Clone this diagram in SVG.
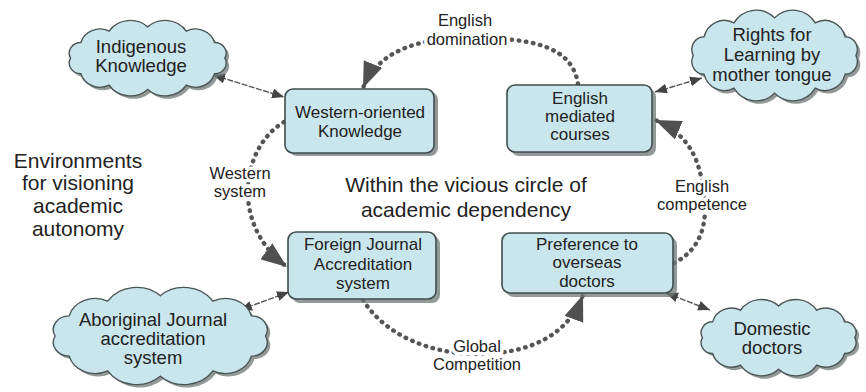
<svg xmlns="http://www.w3.org/2000/svg" width="866" height="392" viewBox="0 0 866 392">
<defs>
<style>
text{font-family:"Liberation Sans",Arial,sans-serif;fill:#222;text-anchor:middle}
.box{fill:#c9e6ec;stroke:#3f4d4f;stroke-width:1.6}
.shadow{fill:#6f7676;opacity:0.75}
.cloud{fill:#c9e6ec;stroke:#4a5556;stroke-width:1.4}
.bt{font-size:17px}
.ct{font-size:18.5px}
.big{font-size:21px}
.lbl{font-size:16.5px;stroke:#fff;stroke-width:7px;paint-order:stroke;stroke-linejoin:round}
.dot{fill:none;stroke:#555;stroke-width:4.4;stroke-linecap:round;stroke-dasharray:0.6 6.6}
.thin{fill:none;stroke:#555;stroke-width:1.4;stroke-dasharray:6 1.5}
</style>
<marker id="ah" markerWidth="28" markerHeight="20" refX="26" refY="10" orient="auto" markerUnits="userSpaceOnUse">
<path d="M0,0 L26,10 L0,20 Z" fill="#505050"/>
</marker>
<marker id="sh" markerWidth="13" markerHeight="10" refX="12" refY="5" orient="auto-start-reverse" markerUnits="userSpaceOnUse">
<path d="M0,0 L12,5 L0,10 Z" fill="#444"/>
</marker>
</defs>
<rect width="866" height="392" fill="#fff"/>

<g id="connectors">
<path class="dot" d="M578,84 C572,45 530,38 470,38 C415,38 378,52 363,88" marker-end="url(#ah)"/>
<path class="dot" d="M284,122 C262,135 250,160 248,185 C246,215 258,245 287,267" marker-end="url(#ah)"/>
<path class="dot" d="M363,300 C385,335 430,354 477,354 C530,354 568,335 583,295" marker-end="url(#ah)"/>
<path class="dot" d="M674,263 C700,250 708,225 704,195 C700,160 690,135 655,120" marker-end="url(#ah)"/>
<path class="thin" d="M213,75 L284,97" marker-start="url(#sh)" marker-end="url(#sh)"/>
<path class="thin" d="M655,92 L702,78" marker-start="url(#sh)" marker-end="url(#sh)"/>
<path class="thin" d="M240,310 L289,292" marker-start="url(#sh)" marker-end="url(#sh)"/>
<path class="thin" d="M666,293 L710,310" marker-start="url(#sh)" marker-end="url(#sh)"/>
<text class="lbl" x="465" y="26">English</text>
<text class="lbl" x="467" y="45">domination</text>
<text class="lbl" x="240" y="179">Western</text>
<text class="lbl" x="240" y="197">system</text>
<text class="lbl" x="702" y="192">English</text>
<text class="lbl" x="702" y="210">competence</text>
<text class="lbl" x="477" y="352">Global</text>
<text class="lbl" x="477" y="370">Competition</text>
</g>

<g id="western-oriented">
<rect class="shadow" x="289" y="92" width="149" height="64" rx="8"/>
<rect class="box" x="285" y="89" width="149" height="64" rx="8"/>
<text class="bt" x="360" y="118">Western-oriented</text>
<text class="bt" x="360" y="137">Knowledge</text>
</g>

<g id="english-mediated">
<rect class="shadow" x="511" y="89" width="145" height="67" rx="8"/>
<rect class="box" x="507" y="85" width="145" height="67" rx="8"/>
<text class="bt" x="580" y="104">English</text>
<text class="bt" x="580" y="122">mediated</text>
<text class="bt" x="580" y="140">courses</text>
</g>

<g id="foreign-journal">
<rect class="shadow" x="292" y="236" width="148" height="67" rx="8"/>
<rect class="box" x="288" y="232" width="148" height="67" rx="8"/>
<text class="bt" x="363" y="250">Foreign Journal</text>
<text class="bt" x="363" y="270">Accreditation</text>
<text class="bt" x="363" y="289">system</text>
</g>

<g id="preference">
<rect class="shadow" x="506" y="237" width="171" height="60" rx="8"/>
<rect class="box" x="502" y="233" width="171" height="60" rx="8"/>
<text class="bt" x="587" y="250">Preference to</text>
<text class="bt" x="587" y="268">overseas</text>
<text class="bt" x="587" y="287">doctors</text>
</g>

<g id="indigenous">
<path class="shadow" transform="translate(61,20) scale(0.897,0.823)" d="M186,50 A13,13 0 0 1 174.5,69 A22,22 0 0 1 143,82.9 A28,28 0 0 1 100,88 A28,28 0 0 1 57,82.9 A22,22 0 0 1 25.5,69 A13,13 0 0 1 14,50 A13,13 0 0 1 25.5,31 A22,22 0 0 1 57,17.1 A28,28 0 0 1 100,12 A28,28 0 0 1 143,17.1 A22,22 0 0 1 174.5,31 A13,13 0 0 1 186,50 Z"/>
<path class="cloud" vector-effect="non-scaling-stroke" transform="translate(58,17) scale(0.897,0.823)" d="M186,50 A13,13 0 0 1 174.5,69 A22,22 0 0 1 143,82.9 A28,28 0 0 1 100,88 A28,28 0 0 1 57,82.9 A22,22 0 0 1 25.5,69 A13,13 0 0 1 14,50 A13,13 0 0 1 25.5,31 A22,22 0 0 1 57,17.1 A28,28 0 0 1 100,12 A28,28 0 0 1 143,17.1 A22,22 0 0 1 174.5,31 A13,13 0 0 1 186,50 Z"/>
<text class="ct" x="141" y="53">Indigenous</text>
<text class="ct" x="141" y="72">Knowledge</text>
</g>

<g id="rights">
<path class="shadow" transform="translate(683,9) scale(0.946,0.99)" d="M186,50 A13,13 0 0 1 174.5,69 A22,22 0 0 1 143,82.9 A28,28 0 0 1 100,88 A28,28 0 0 1 57,82.9 A22,22 0 0 1 25.5,69 A13,13 0 0 1 14,50 A13,13 0 0 1 25.5,31 A22,22 0 0 1 57,17.1 A28,28 0 0 1 100,12 A28,28 0 0 1 143,17.1 A22,22 0 0 1 174.5,31 A13,13 0 0 1 186,50 Z"/>
<path class="cloud" vector-effect="non-scaling-stroke" transform="translate(680,6) scale(0.946,0.99)" d="M186,50 A13,13 0 0 1 174.5,69 A22,22 0 0 1 143,82.9 A28,28 0 0 1 100,88 A28,28 0 0 1 57,82.9 A22,22 0 0 1 25.5,69 A13,13 0 0 1 14,50 A13,13 0 0 1 25.5,31 A22,22 0 0 1 57,17.1 A28,28 0 0 1 100,12 A28,28 0 0 1 143,17.1 A22,22 0 0 1 174.5,31 A13,13 0 0 1 186,50 Z"/>
<text class="ct" x="772" y="41">Rights for</text>
<text class="ct" x="772" y="61">Learning by</text>
<text class="ct" x="772" y="81">mother tongue</text>
</g>

<g id="aboriginal">
<path class="shadow" transform="translate(41,286) scale(1.223,1.06)" d="M186,50 A13,13 0 0 1 174.5,69 A22,22 0 0 1 143,82.9 A28,28 0 0 1 100,88 A28,28 0 0 1 57,82.9 A22,22 0 0 1 25.5,69 A13,13 0 0 1 14,50 A13,13 0 0 1 25.5,31 A22,22 0 0 1 57,17.1 A28,28 0 0 1 100,12 A28,28 0 0 1 143,17.1 A22,22 0 0 1 174.5,31 A13,13 0 0 1 186,50 Z"/>
<path class="cloud" vector-effect="non-scaling-stroke" transform="translate(38,283) scale(1.223,1.06)" d="M186,50 A13,13 0 0 1 174.5,69 A22,22 0 0 1 143,82.9 A28,28 0 0 1 100,88 A28,28 0 0 1 57,82.9 A22,22 0 0 1 25.5,69 A13,13 0 0 1 14,50 A13,13 0 0 1 25.5,31 A22,22 0 0 1 57,17.1 A28,28 0 0 1 100,12 A28,28 0 0 1 143,17.1 A22,22 0 0 1 174.5,31 A13,13 0 0 1 186,50 Z"/>
<text class="ct" x="153" y="326">Aboriginal Journal</text>
<text class="ct" x="153" y="345">accreditation</text>
<text class="ct" x="153" y="364">system</text>
</g>

<g id="domestic">
<path class="shadow" transform="translate(693,299) scale(0.886,0.833)" d="M186,50 A13,13 0 0 1 174.5,69 A22,22 0 0 1 143,82.9 A28,28 0 0 1 100,88 A28,28 0 0 1 57,82.9 A22,22 0 0 1 25.5,69 A13,13 0 0 1 14,50 A13,13 0 0 1 25.5,31 A22,22 0 0 1 57,17.1 A28,28 0 0 1 100,12 A28,28 0 0 1 143,17.1 A22,22 0 0 1 174.5,31 A13,13 0 0 1 186,50 Z"/>
<path class="cloud" vector-effect="non-scaling-stroke" transform="translate(690,296) scale(0.886,0.833)" d="M186,50 A13,13 0 0 1 174.5,69 A22,22 0 0 1 143,82.9 A28,28 0 0 1 100,88 A28,28 0 0 1 57,82.9 A22,22 0 0 1 25.5,69 A13,13 0 0 1 14,50 A13,13 0 0 1 25.5,31 A22,22 0 0 1 57,17.1 A28,28 0 0 1 100,12 A28,28 0 0 1 143,17.1 A22,22 0 0 1 174.5,31 A13,13 0 0 1 186,50 Z"/>
<text class="ct" x="772" y="335">Domestic</text>
<text class="ct" x="772" y="354">doctors</text>
</g>

<g id="environments-note">
<text class="big" x="78" y="168">Environments</text>
<text class="big" x="78" y="190">for visioning</text>
<text class="big" x="78" y="213">academic</text>
<text class="big" x="78" y="236">autonomy</text>
</g>

<g id="vicious-circle-note">
<text class="big" x="466" y="192">Within the vicious circle of</text>
<text class="big" x="466" y="217">academic dependency</text>
</g>
</svg>
